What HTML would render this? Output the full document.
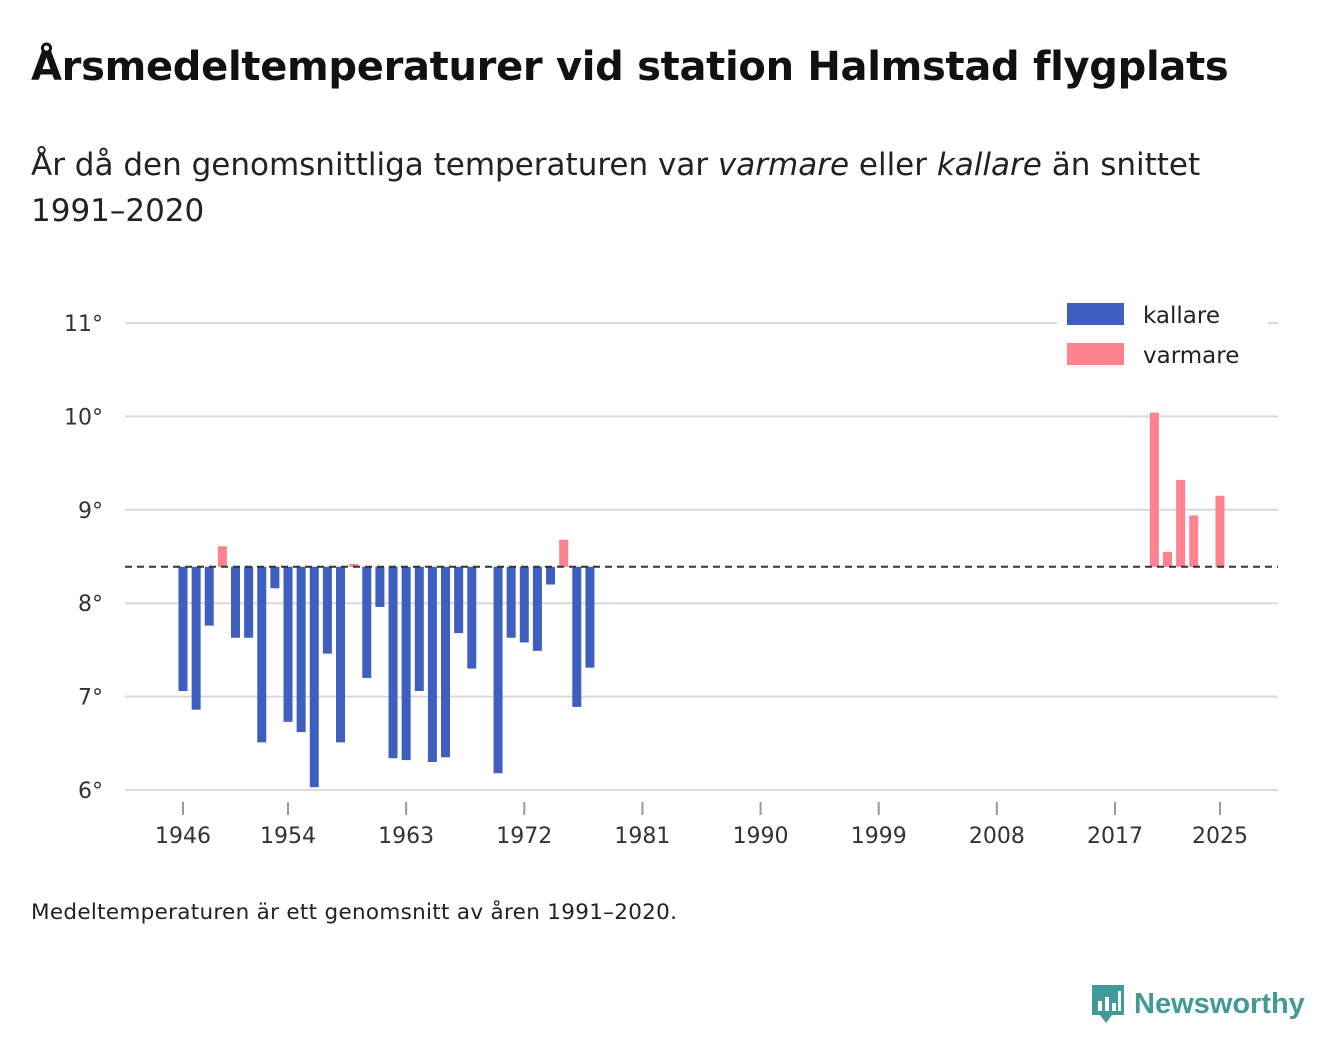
<!DOCTYPE html>
<html><head><meta charset="utf-8"><style>
body{margin:0;width:1340px;height:1056px;background:#fff;font-family:"DejaVu Sans","Liberation Sans",sans-serif;color:#111;position:relative;overflow:hidden}
#title{position:absolute;left:31px;top:44px;font-size:40px;font-weight:bold;margin:0;letter-spacing:-0.3px;white-space:nowrap}
#sub{position:absolute;left:31px;top:142px;font-size:31px;line-height:46px;color:#222;width:1240px;letter-spacing:0px}
#note{position:absolute;left:31px;top:900px;font-size:21.5px;color:#222;letter-spacing:0.3px}
#logo{position:absolute;left:1090px;top:983px;font-size:29px;font-weight:bold;color:#3f9a98;display:flex;align-items:center;gap:8px;font-family:"Liberation Sans",sans-serif}
svg text{font-family:"DejaVu Sans","Liberation Sans",sans-serif}
</style></head><body>
<h1 id="title">Årsmedeltemperaturer vid station Halmstad flygplats</h1>
<div id="sub">År då den genomsnittliga temperaturen var <i>varmare</i> eller <i>kallare</i> än snittet <span style="white-space:nowrap">1991–2020</span></div>
<svg id="chart" width="1340" height="1056" style="position:absolute;left:0;top:0"></svg>
<div id="note">Medeltemperaturen är ett genomsnitt av åren 1991–2020.</div>
<div id="logo"><svg width="36" height="42" viewBox="0 0 36 42"><path d="M2 2h32v30H22l-6 8-6-8H2z" fill="#3f9a98"/><rect x="8" y="18" width="4" height="10" fill="#fff"/><rect x="15" y="14" width="4" height="14" fill="#fff"/><rect x="22" y="20" width="4" height="8" fill="#fff"/><rect x="28" y="8" width="3" height="20" fill="#fff"/></svg>Newsworthy</div>
<script>
const years=[1946,1947,1948,1949,1950,1951,1952,1953,1954,1955,1956,1957,1958,1959,1960,1961,1962,1963,1964,1965,1966,1967,1968,1970,1971,1972,1973,1974,1975,1976,1977,2020,2021,2022,2023,2025];
const temps=[7.06,6.86,7.76,8.61,7.63,7.63,6.51,8.16,6.73,6.62,6.03,7.46,6.51,8.42,7.2,7.96,6.34,6.32,7.06,6.3,6.35,7.68,7.3,6.18,7.63,7.58,7.49,8.2,8.68,6.89,7.31,10.04,8.55,9.32,8.94,9.15];
const yTicks=[6,7,8,9,10,11];
const xTicks=[1946,1954,1963,1972,1981,1990,1999,2008,2017,2025];
const baseline=8.39;
const svg=document.getElementById('chart');const NS='http://www.w3.org/2000/svg';
const X=y=>183+(y-1946)*(1037/79);
const Y=v=>790-(v-6)*(467/5);
function el(t,a){const e=document.createElementNS(NS,t);for(const k in a)e.setAttribute(k,a[k]);svg.appendChild(e);return e;}
yTicks.forEach(t=>{
 const g=el('line',{x1:125,x2:1278,y1:Y(t),y2:Y(t),stroke:'#d9d9d9','stroke-width':2});
 
 
 const l=el('text',{x:103,y:Y(t)+8,'text-anchor':'end','font-size':22,fill:'#333'});l.textContent=t+'°';
 
 
});
xTicks.forEach(t=>{
 const k=el('line',{x1:X(t),x2:X(t),y1:802,y2:815,stroke:'#999','stroke-width':2});
 
 
 const l=el('text',{x:X(t),y:843,'text-anchor':'middle','font-size':22,fill:'#333'});l.textContent=t;
 
 
});
years.forEach((yr,i)=>{
 const v=temps[i];const top=Math.min(Y(v),Y(baseline)),h=Math.abs(Y(v)-Y(baseline));
 const r=el('rect',{x:X(yr)-4.5,y:top,width:9,height:Math.max(h,1),fill:v<baseline?'#3f5fbf':'#ff828f'});
 
 
});
const b=el('line',{x1:125,x2:1278,y1:Y(baseline),y2:Y(baseline),stroke:'#333','stroke-width':2,'stroke-dasharray':'7,5'});


el('rect',{x:1057,y:300,width:211,height:70,fill:'#fff'});
[['kallare','#3f5fbf',303],['varmare','#ff828f',343]].forEach(([n,c,y])=>{
 const s=el('rect',{x:1067,y:y,width:57,height:22,fill:c});
 
 
 const t=el('text',{x:1143,y:y+20,'font-size':23,fill:'#222'});t.textContent=n;
 
 
});
</script>
</body></html>
